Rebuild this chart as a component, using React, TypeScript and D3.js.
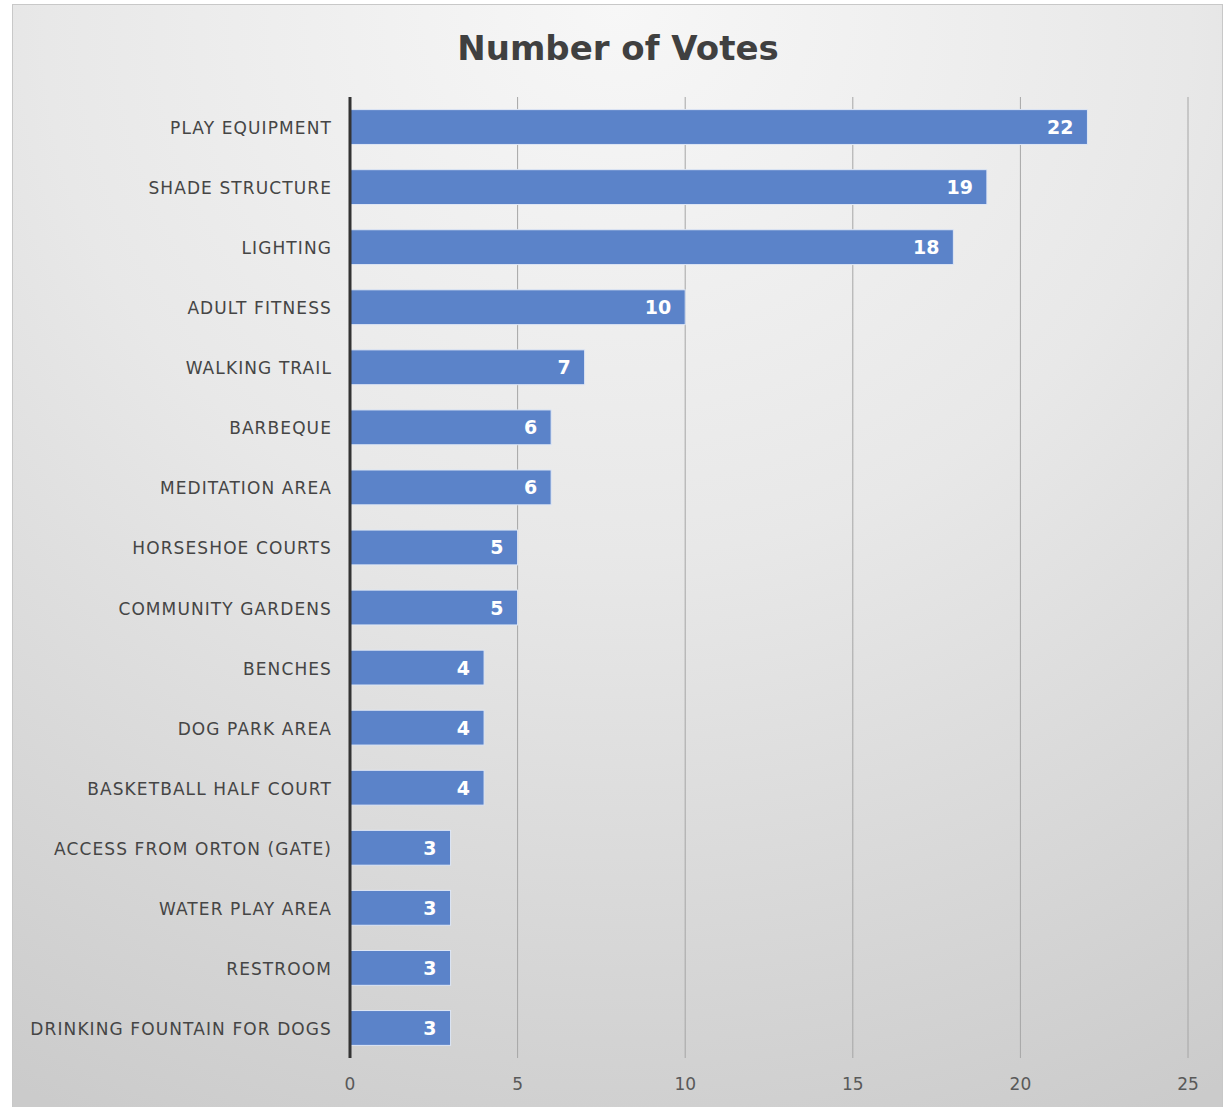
import React from "react";
import * as d3 from "d3";

const categories = [
  "PLAY EQUIPMENT",
  "SHADE STRUCTURE",
  "LIGHTING",
  "ADULT FITNESS",
  "WALKING TRAIL",
  "BARBEQUE",
  "MEDITATION AREA",
  "HORSESHOE COURTS",
  "COMMUNITY GARDENS",
  "BENCHES",
  "DOG PARK AREA",
  "BASKETBALL HALF COURT",
  "ACCESS FROM ORTON (GATE)",
  "WATER PLAY AREA",
  "RESTROOM",
  "DRINKING FOUNTAIN FOR DOGS",
];
const votes = [22, 19, 18, 10, 7, 6, 6, 5, 5, 4, 4, 4, 3, 3, 3, 3];
const xTicks = [0, 5, 10, 15, 20, 25];
const title = "Number of Votes";

const W = 1226;
const H = 1107;
const font = "'DejaVu Sans', 'Noto Sans', sans-serif";

export default function App() {
  const x = d3.scaleLinear().domain([0, 25]).range([350, 1188]);
  const y = d3.scaleBand<string>().domain(categories).range([97, 1058]).paddingInner(0.42).paddingOuter(0.21);
  const plotTop = 97;
  const plotBottom = 1058;
  return (
    <svg width={W} height={H} style={{ position: "absolute", left: 0, top: 0 }}>
      <defs>
        <radialGradient id="bg" cx="0.5" cy="0.05" r="1.05" fx="0.5" fy="0.0">
          <stop offset="0" stopColor="#f7f7f7" />
          <stop offset="0.45" stopColor="#e8e8e8" />
          <stop offset="1" stopColor="#cbcbcb" />
        </radialGradient>
      </defs>
      <rect x={12.5} y={4.5} width={1210} height={1110} fill="url(#bg)" stroke="#c8c8c8" strokeWidth={1} />
      <text x={618} y={60} textAnchor="middle" fontFamily={font} fontWeight="bold" fontSize={34} fill="#404040">
        {title}
      </text>
      {xTicks.map((t) => (
        <g key={t}>
          {t !== 0 && (
            <line x1={x(t)} x2={x(t)} y1={plotTop} y2={plotBottom} stroke="#a6a6a6" strokeWidth={1} />
          )}
          <text x={x(t)} y={1090} textAnchor="middle" fontFamily={font} fontSize={17} fill="#595959">
            {t}
          </text>
        </g>
      ))}
      {categories.map((c, i) => {
        const by = y(c)!;
        const bh = y.bandwidth();
        return (
          <g key={c}>
            <rect x={x(0)} y={by} width={x(votes[i]) - x(0)} height={bh} fill="#5b83c9" stroke="#dfe7f5" strokeWidth={1} />
            <text x={x(votes[i]) - 14} y={by + bh / 2 + 7} textAnchor="end" fontFamily={font} fontWeight="bold" fontSize={19} fill="#ffffff">
              {votes[i]}
            </text>
            <text x={332} y={by + bh / 2 + 7} textAnchor="end" fontFamily={font} fontSize={17} letterSpacing={1.1} fill="#454545">
              {c}
            </text>
          </g>
        );
      })}
      <line x1={x(0)} x2={x(0)} y1={plotTop} y2={plotBottom} stroke="#333333" strokeWidth={3} />
    </svg>
  );
}
